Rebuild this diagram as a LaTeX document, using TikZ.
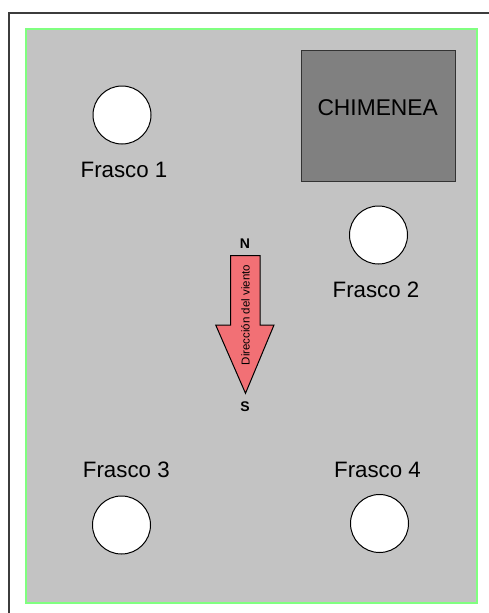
\documentclass[tikz,border=0pt]{standalone}
\usepackage{fontspec}
\setmainfont{Liberation Sans}
\definecolor{bggray}{RGB}{195,195,195}
\definecolor{framegreen}{RGB}{128,255,128}
\definecolor{chimgray}{RGB}{128,128,128}
\definecolor{arrowred}{RGB}{242,112,117}
\definecolor{framedark}{RGB}{60,60,60}
\tikzset{
  frasco/.style={circle, draw=black, line width=1pt, fill=white, minimum size=58pt, inner sep=0pt},
  flabel/.style={anchor=base, inner sep=0pt, font=\fontsize{22.3}{25}\selectfont},
  compass/.style={anchor=base, inner sep=0pt, font=\fontsize{14}{16}\selectfont\bfseries},
}
\begin{document}
\begin{tikzpicture}[x=1pt,y=-1pt]
\useasboundingbox (0,0) rectangle (489,613);
\fill[white] (0,0) rectangle (489,613);
% outer frame
\draw[framedark, line width=1.2pt] (9,620) -- (9,13) -- (495,13);
% green area
\draw[framegreen, fill=bggray, line width=2pt] (26,29) rectangle (477,603);
% chimenea
\node (chim) [draw=black!80, line width=1pt, fill=chimgray, minimum width=154pt, minimum height=131pt, inner sep=0pt] at (378.7,115.8) {};
\node (chimtxt) [anchor=base, inner sep=0pt, font=\fontsize{22.8}{26}\selectfont] at (377.7,115) {CHIMENEA};
% frascos
\node (f1) [frasco] at (122,115) {};
\node (f2) [frasco] at (378.5,235) {};
\node (f3) [frasco] at (121.5,525) {};
\node (f4) [frasco] at (379.5,523.5) {};
\node (l1) [flabel] at (124,177) {Frasco 1};
\node (l2) [flabel] at (376,297.3) {Frasco 2};
\node (l3) [flabel] at (126.3,477.6) {Frasco 3};
\node (l4) [flabel] at (377.5,477.6) {Frasco 4};
% wind arrow
\draw[black, line width=1pt, fill=arrowred, line join=miter]
  (230.7,255.7) -- (260,255.7) -- (260,325) -- (274,325) -- (245.5,393.3)
  -- (215.7,325) -- (230.7,325) -- cycle;
\node (wind) [rotate=90, inner sep=0pt, font=\fontsize{11.5}{13}\selectfont] at (245.5,315) {Dirección del viento};
\node (n) [compass] at (245,248.3) {N};
\node (s) [compass] at (245,411.7) {S};
\end{tikzpicture}
\end{document}
